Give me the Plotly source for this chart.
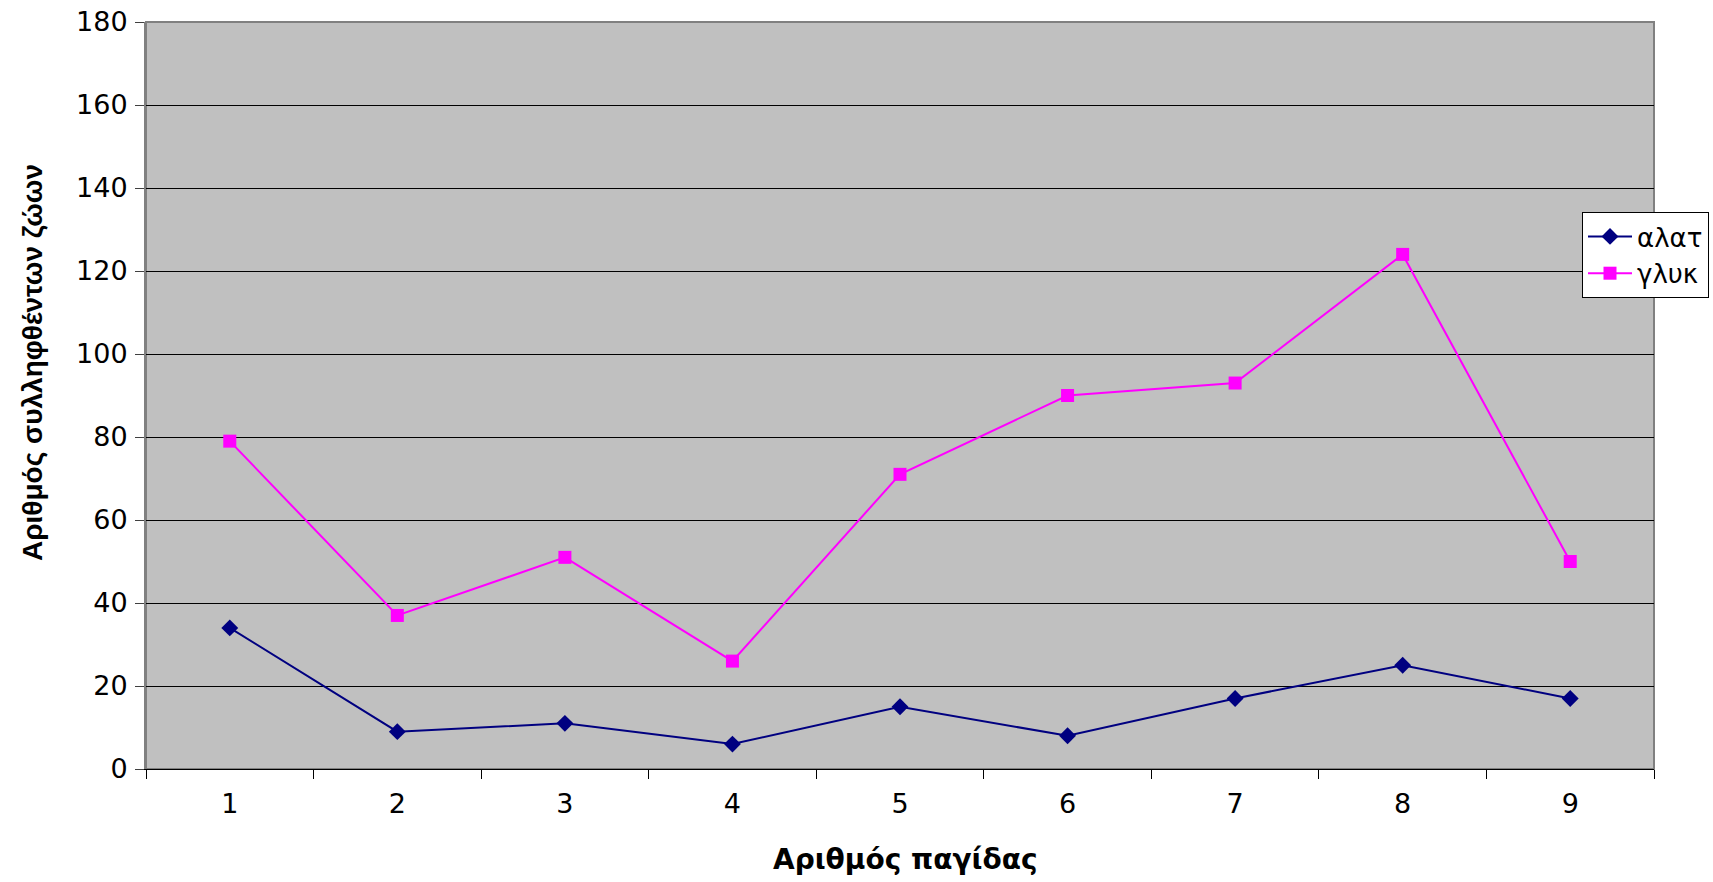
import plotly.graph_objects as go

# Trap numbers and animals caught per trap
traps = ["1", "2", "3", "4", "5", "6", "7", "8", "9"]
alat = [34, 9, 11, 6, 15, 8, 17, 25, 17]
glyk = [79, 37, 51, 26, 71, 90, 93, 124, 50]
y_ticks = [0, 20, 40, 60, 80, 100, 120, 140, 160, 180]

W, H = 1713, 882
L, R, T, B = 146, 59, 22, 113

fig = go.Figure()
fig.add_trace(go.Scatter(
    x=traps, y=alat, name="αλατ", mode="lines+markers",
    line=dict(color="#000080", width=2),
    marker=dict(symbol="diamond", size=13, color="#000080"),
))
fig.add_trace(go.Scatter(
    x=traps, y=glyk, name="γλυκ", mode="lines+markers",
    line=dict(color="#FF00FF", width=2),
    marker=dict(symbol="square", size=13, color="#FF00FF"),
))

tick_font = dict(family="DejaVu Sans, Verdana, sans-serif", size=27, color="black")
xtitle_font = dict(family="DejaVu Sans, Verdana, sans-serif", size=28, color="black")
ytitle_font = dict(family="Liberation Sans, Arial, sans-serif", size=28, color="black")

fig.update_layout(
    width=W, height=H, autosize=False,
    margin=dict(l=L, r=R, t=T, b=B, pad=0, autoexpand=False),
    paper_bgcolor="white", plot_bgcolor="#C0C0C0",
    showlegend=True,
    legend=dict(
        x=(1582 - L) / (W - L - R), y=1 - (212 - T) / (H - T - B),
        xanchor="left", yanchor="top",
        bgcolor="white", bordercolor="black", borderwidth=1,
        font=dict(family="DejaVu Sans, Verdana, sans-serif", size=26, color="black"),
        tracegroupgap=0, itemwidth=44,
    ),
    xaxis=dict(
        type="category", range=[-0.5, 8.5], tickson="boundaries",
        ticks="outside", ticklen=9, tickcolor="black", tickwidth=1,
        showgrid=False, zeroline=False, automargin=False,
        showline=True, linecolor="black", linewidth=1,
        tickfont=tick_font, ticklabelstandoff=11,
    ),
    yaxis=dict(
        range=[0, 180], tickvals=y_ticks, automargin=False,
        ticks="outside", ticklen=9, tickcolor="#404040", tickwidth=1,
        showgrid=True, gridcolor="black", gridwidth=1,
        zeroline=False,
        showline=True, linecolor="#808080", linewidth=2,
        tickfont=tick_font, ticklabelstandoff=2,
    ),
    shapes=[dict(
        type="rect", xref="paper", yref="paper", x0=0, x1=1, y0=0, y1=1,
        line=dict(color="#808080", width=2), fillcolor="rgba(0,0,0,0)", layer="below",
    )],
    annotations=[
        dict(text="<b>Αριθμός παγίδας</b>", xref="paper", yref="paper",
             x=(905 - L) / (W - L - R), y=1 - (859 - T) / (H - T - B),
             xanchor="center", yanchor="middle", showarrow=False, font=xtitle_font),
        dict(text="<b>Αριθμός συλληφθέντων ζώων</b>", xref="paper", yref="paper",
             x=(32 - L) / (W - L - R), y=1 - (363 - T) / (H - T - B),
             xanchor="center", yanchor="middle", textangle=-90,
             showarrow=False, font=ytitle_font),
    ],
)

fig.write_html("out.html")
